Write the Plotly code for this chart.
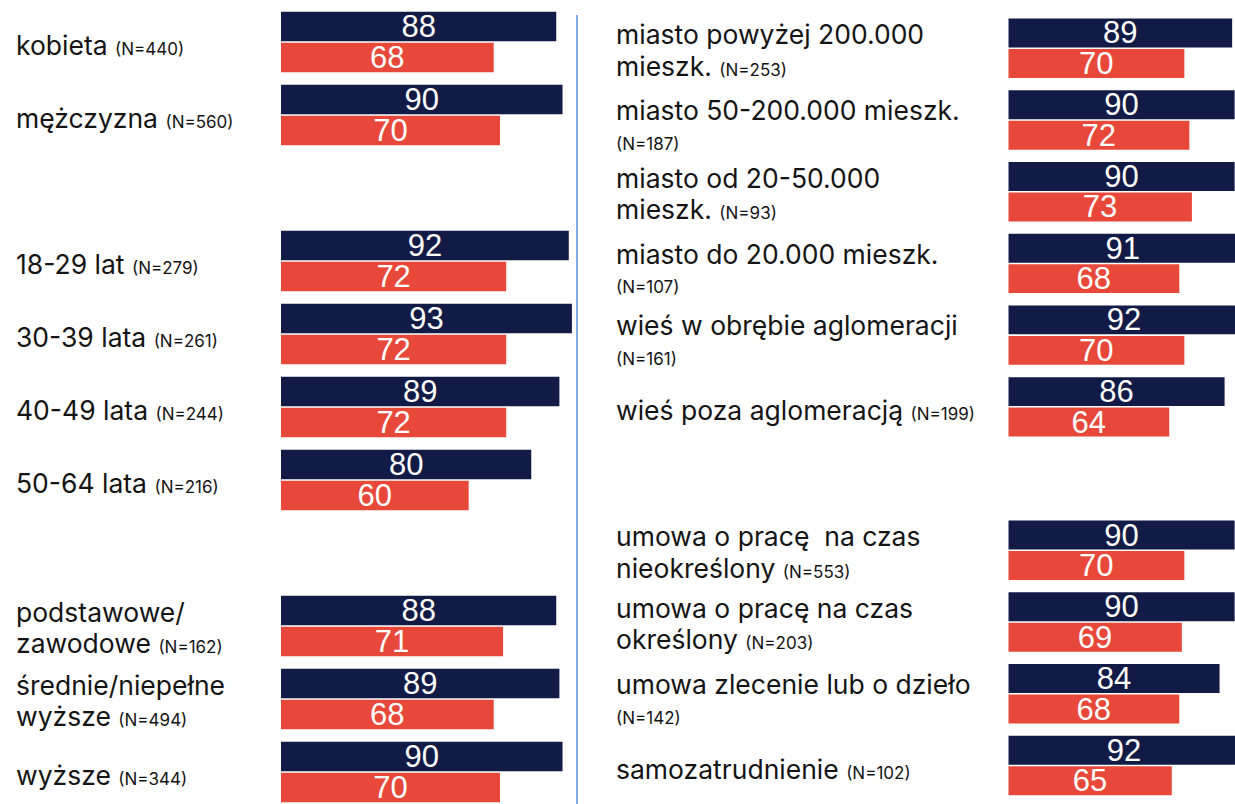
import plotly.graph_objects as go

W, H = 1235, 804

# ---- left panel: gender, age, education ----
left_names = [
    "kobieta", "mężczyzna",
    "18-29 lat", "30-39 lata", "40-49 lata", "50-64 lata",
    "podstawowe/<br>zawodowe", "średnie/niepełne<br>wyższe", "wyższe",
]
left_n = [440, 560, 279, 261, 244, 216, 162, 494, 344]
left_slots = [0, 1, 3, 4, 5, 6, 8, 9, 10]
left_navy = [88, 90, 92, 93, 89, 80, 88, 89, 90]
left_red = [68, 70, 72, 72, 72, 60, 71, 68, 70]

# ---- right panel: place of residence, type of contract ----
right_names = [
    "miasto powyżej 200.000<br>mieszk.",
    "miasto 50-200.000 mieszk.<br>",
    "miasto od 20-50.000<br>mieszk.",
    "miasto do 20.000 mieszk.<br>",
    "wieś w obrębie aglomeracji<br>",
    "wieś poza aglomeracją",
    "umowa o pracę\u00a0 na czas<br>nieokreślony",
    "umowa o pracę na czas<br>określony",
    "umowa zlecenie lub o dzieło<br>",
    "samozatrudnienie",
]
right_n = [253, 187, 93, 107, 161, 199, 553, 203, 142, 102]
right_slots = [0, 1, 2, 3, 4, 5, 7, 8, 9, 10]
right_navy = [89, 90, 90, 91, 92, 86, 90, 90, 84, 92]
right_red = [70, 72, 73, 68, 70, 64, 70, 69, 68, 65]

NAVY = "#121B45"
RED = "#E8483A"
TEXT = "#141414"
LABEL_FONT = "Inter"
VALUE_FONT = "Liberation Sans"
BIG, SMALL = 26.5, 17
ASC = 0.364  # baseline offset from box centre, in em, for Inter


def bar(values, slots, color, xa, ya):
    return go.Bar(
        orientation="h",
        x=values,
        y=slots,
        xaxis=xa,
        yaxis=ya,
        marker=dict(color=color, line=dict(width=0)),
        text=[str(v) for v in values],
        textposition="inside",
        insidetextanchor="middle",
        constraintext="none",
        textangle=0,
        textfont=dict(family=VALUE_FONT, size=31, color="white"),
        hoverinfo="skip",
        showlegend=False,
    )


def label_lines(name, n, slot, x_px, yref):
    """One annotation per text line so the line pitch can be set exactly."""
    small = f"<span style='font-size:{SMALL}px'>(N={n})</span>"
    parts = name.split("<br>")
    if len(parts) == 1:
        lines = [(f"{parts[0]} {small}", BIG, 13)]
    elif parts[1] == "":
        lines = [(parts[0], BIG, 0), (f"(N={n})", SMALL, 30)]
    else:
        lines = [(parts[0], BIG, -4.5), (f"{parts[1]} {small}", BIG, 27)]
    out = []
    for txt, size, baseline in lines:
        out.append(dict(
            x=x_px / W, xref="paper", y=slot, yref=yref,
            text=txt, showarrow=False,
            xanchor="left", yanchor="middle", align="left",
            yshift=-(baseline - ASC * size),
            font=dict(family=LABEL_FONT, size=size, color=TEXT),
        ))
    return out


fig = go.Figure()
fig.add_trace(bar(left_navy, left_slots, NAVY, "x", "y"))
fig.add_trace(bar(left_red, left_slots, RED, "x", "y"))
fig.add_trace(bar(right_navy, right_slots, NAVY, "x2", "y2"))
fig.add_trace(bar(right_red, right_slots, RED, "x2", "y2"))

# pixel geometry of the two panels
L_X0, L_SCALE = 281.0, 3.128      # px where bars start, px per percentage point
R_X0, R_SCALE = 1008.3, 2.515
L_C0, L_STEP = 42.0, 73.0         # centre of first row, row pitch (px)
R_C0, R_STEP = 48.2, 71.73

annotations = []
for name, n, s in zip(left_names, left_n, left_slots):
    annotations += label_lines(name, n, s, 14, "y")
for name, n, s in zip(right_names, right_n, right_slots):
    annotations += label_lines(name, n, s, 614, "y2")

hidden = dict(visible=False, showgrid=False, zeroline=False, fixedrange=True)

fig.update_layout(
    width=W, height=H, autosize=False,
    margin=dict(l=0, r=0, t=0, b=0, pad=0),
    paper_bgcolor="white", plot_bgcolor="white",
    barmode="group", bargap=0.15, bargroupgap=0.05,
    xaxis=dict(domain=[L_X0 / W, (L_X0 + 100 * L_SCALE) / W], range=[0, 100], **hidden),
    yaxis=dict(domain=[0, 1], range=[(H - L_C0) / L_STEP, -L_C0 / L_STEP], **hidden),
    xaxis2=dict(domain=[R_X0 / W, 1], range=[0, (W - R_X0) / R_SCALE], anchor="y2", **hidden),
    yaxis2=dict(domain=[0, 1], range=[(H - R_C0) / R_STEP, -R_C0 / R_STEP], anchor="x2", **hidden),
    annotations=annotations,
    shapes=[dict(
        type="line", xref="paper", yref="paper",
        x0=577 / W, x1=577 / W, y0=0, y1=1 - 15 / H,
        line=dict(color="#5B8FDB", width=1.5),
    )],
)

fig.write_html("out.html")
